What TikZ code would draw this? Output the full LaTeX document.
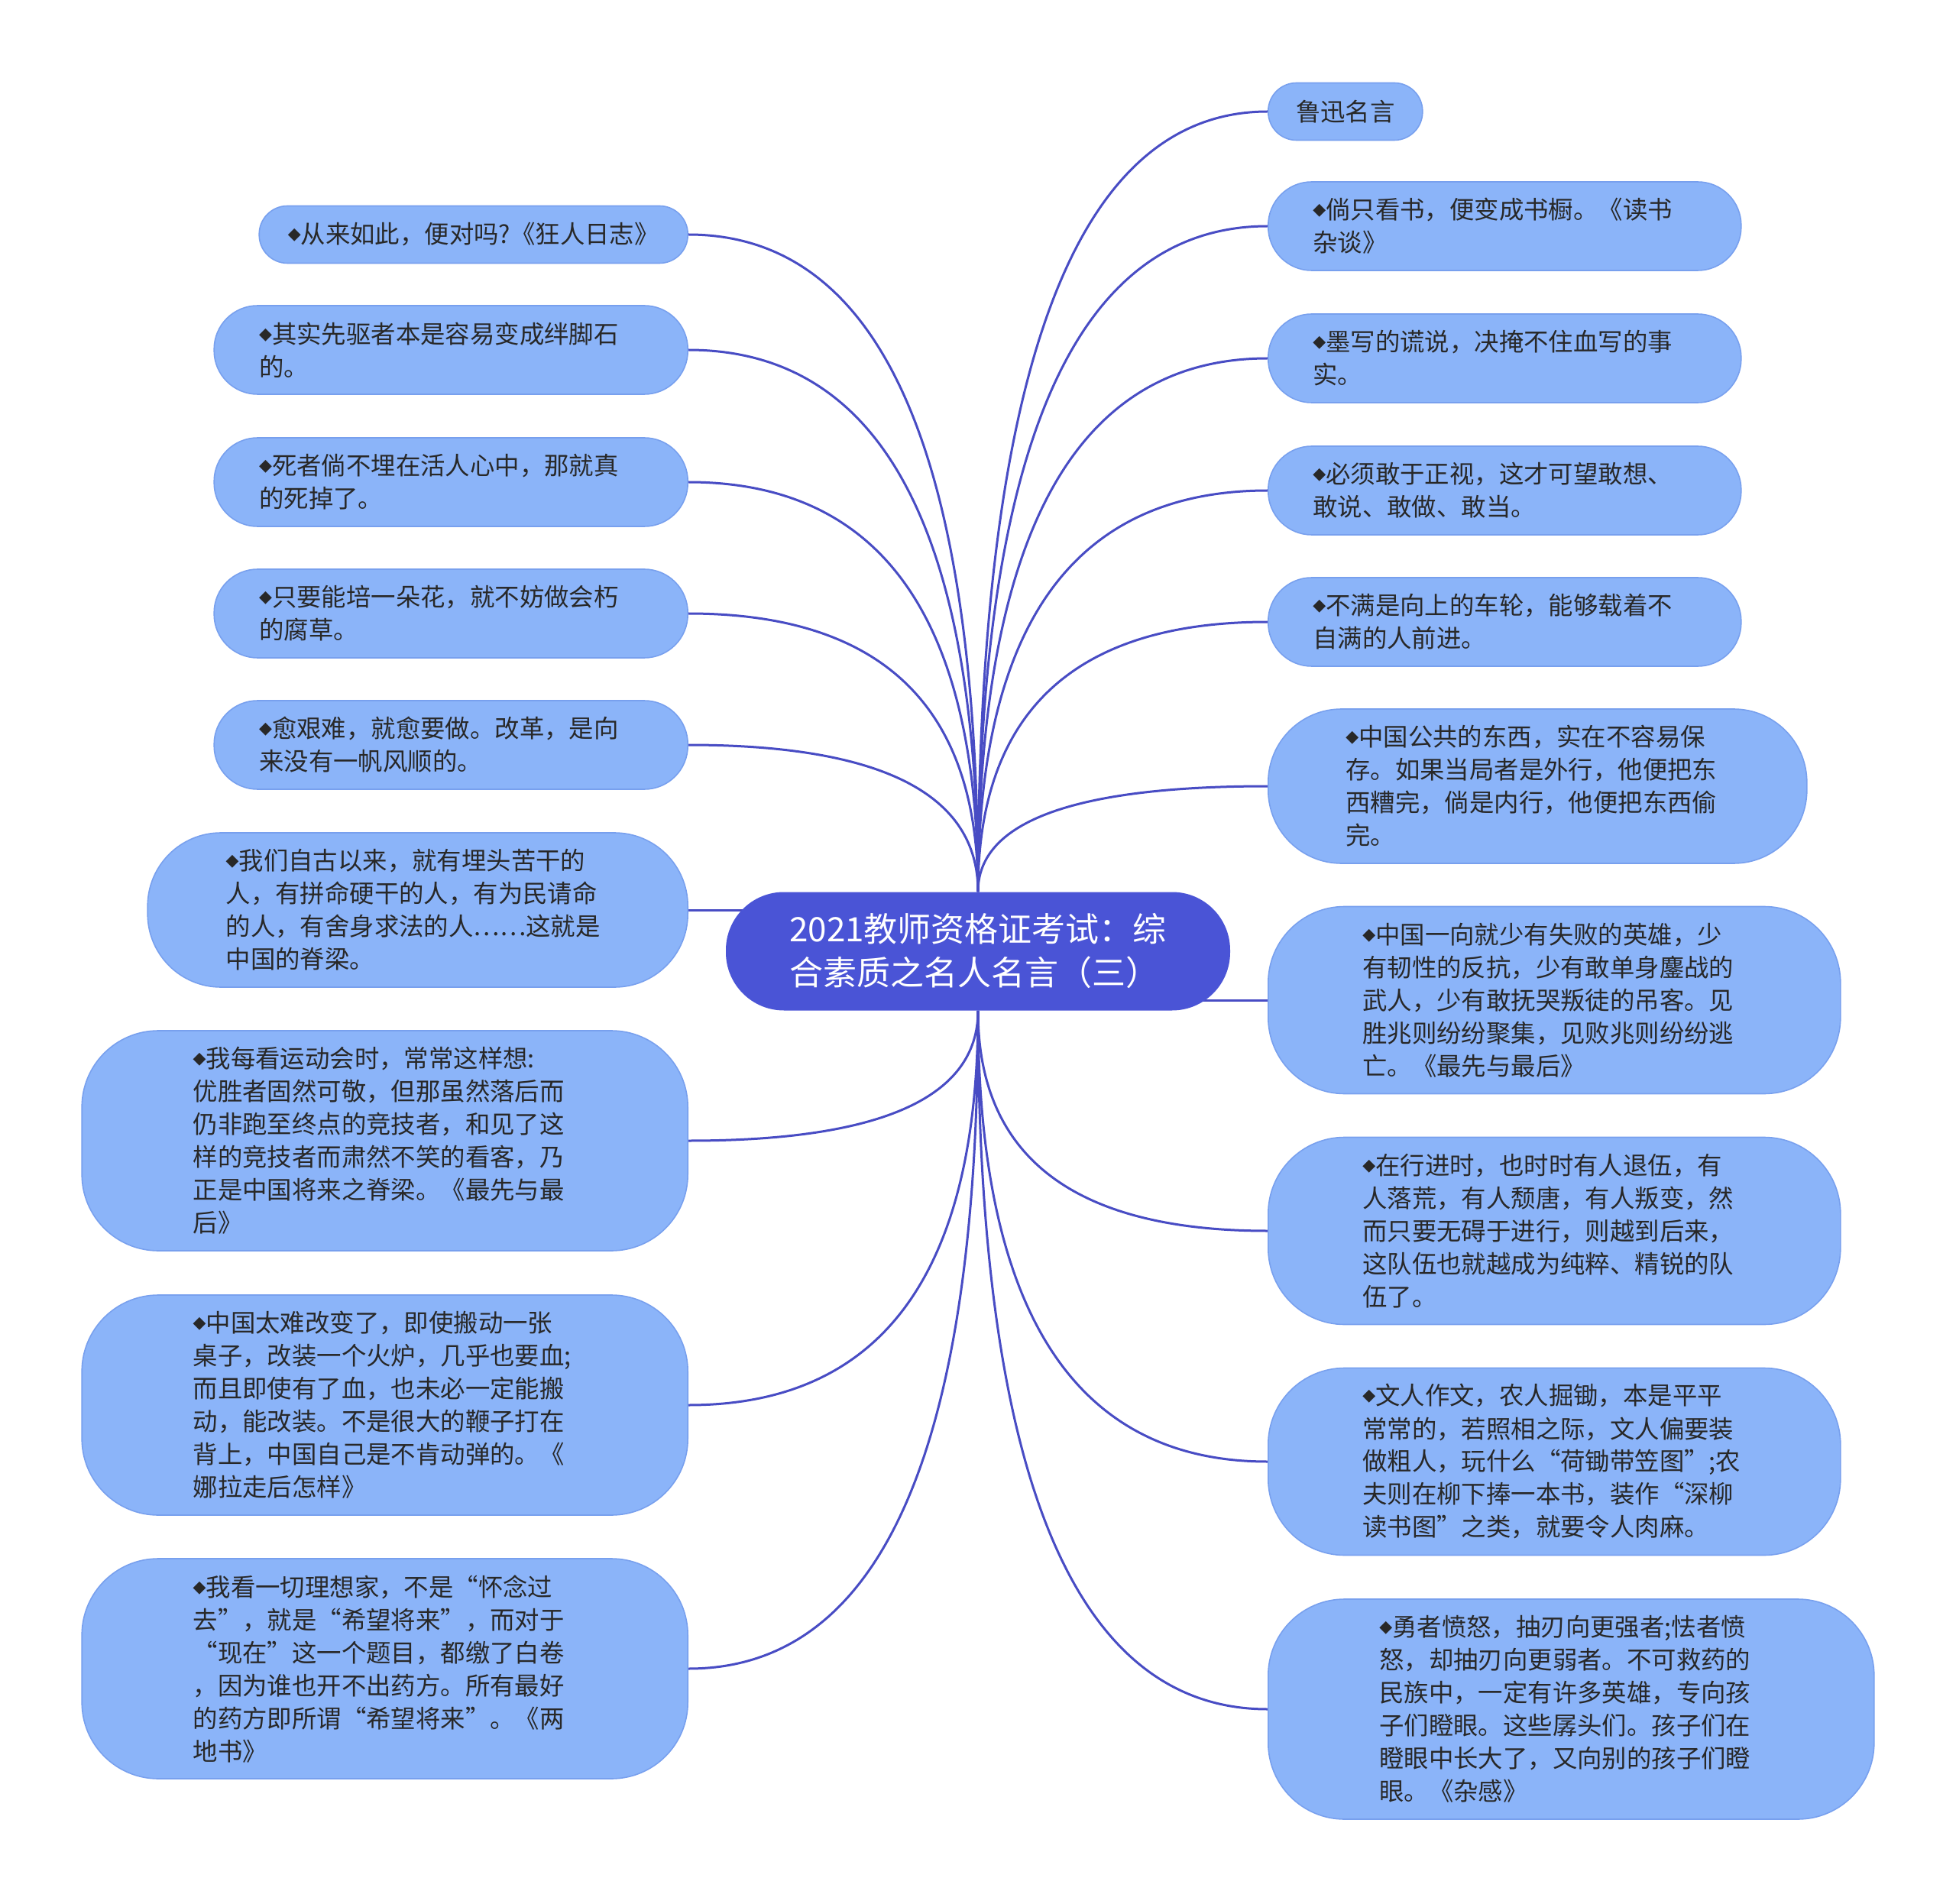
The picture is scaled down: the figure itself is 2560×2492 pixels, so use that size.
\documentclass[tikz,border=0pt]{standalone}
\usepackage{fontspec}
\usetikzlibrary{backgrounds,calc}
\newfontfamily\cjk{Noto Sans CJK SC}
\newfontfamily\djv{DejaVu Sans}
\definecolor{leaffill}{RGB}{139,180,249}
\definecolor{leafline}{RGB}{120,160,238}
\definecolor{centerfill}{RGB}{74,84,214}
\definecolor{linecol}{RGB}{72,76,196}
\definecolor{txt}{RGB}{40,40,40}
\newcommand\dm{\raisebox{2.5pt}{\djv\fontsize{11}{11}\selectfont ◆}}
\tikzset{
  leaf/.style={draw=leafline, fill=leaffill, line width=0.8pt, inner sep=0pt,
    text=txt, font=\cjk\fontsize{16.2}{21.5}\selectfont, align=left},
  tw/.style={text width=251pt},
  hone/.style={minimum height=37.5pt, rounded corners=18.5pt},
  htwo/.style={minimum height=58pt, rounded corners=28.5pt},
  hfour/.style={minimum height=101pt, rounded corners=48pt},
  hfive/.style={minimum height=122.5pt, rounded corners=50pt},
  hsix/.style={minimum height=144pt, rounded corners=50pt},
  central/.style={fill=centerfill, inner sep=0pt, text=white, align=left,
    font=\cjk\fontsize{22}{28.5}\selectfont, minimum width=330pt,
    minimum height=77.5pt, rounded corners=38pt},
  conn/.style={draw=linecol, line width=1.5pt},
}
\begin{document}
\begin{tikzpicture}[x=0.5pt,y=-0.5pt]
\useasboundingbox (0,0) rectangle (2560,2492);

\node[central] (c) at (1280,1245) {2021教师资格证考试：综\\合素质之名人名言（三）};

% left side
\node[leaf,hone,anchor=east,minimum width=280.5pt] (L1) at (901,307) {\dm 从来如此，便对吗?《狂人日志》};
\node[leaf,htwo,tw,anchor=east,minimum width=310pt] (L2) at (901,458) {\dm 其实先驱者本是容易变成绊脚石\\的。};
\node[leaf,htwo,tw,anchor=east,minimum width=310pt] (L3) at (901,631) {\dm 死者倘不埋在活人心中，那就真\\的死掉了。};
\node[leaf,htwo,tw,anchor=east,minimum width=310pt] (L4) at (901,803) {\dm 只要能培一朵花，就不妨做会朽\\的腐草。};
\node[leaf,htwo,tw,anchor=east,minimum width=310pt] (L5) at (901,975) {\dm 愈艰难，就愈要做。改革，是向\\来没有一帆风顺的。};
\node[leaf,hfour,tw,anchor=east,minimum width=353.5pt] (L6) at (901,1191) {\dm 我们自古以来，就有埋头苦干的\\人，有拼命硬干的人，有为民请命\\的人，有舍身求法的人……这就是\\中国的脊梁。};
\node[leaf,hsix,tw,anchor=east,minimum width=396.5pt] (L7) at (901,1493) {\dm 我每看运动会时，常常这样想:\\优胜者固然可敬，但那虽然落后而\\仍非跑至终点的竞技者，和见了这\\样的竞技者而肃然不笑的看客，乃\\正是中国将来之脊梁。《最先与最\\后》};
\node[leaf,hsix,tw,anchor=east,minimum width=396.5pt] (L8) at (901,1839) {\dm 中国太难改变了，即使搬动一张\\桌子，改装一个火炉，几乎也要血;\\而且即使有了血，也未必一定能搬\\动，能改装。不是很大的鞭子打在\\背上，中国自己是不肯动弹的。《\\娜拉走后怎样》};
\node[leaf,hsix,tw,anchor=east,minimum width=396.5pt] (L9) at (901,2184) {\dm 我看一切理想家，不是“怀念过\\去”，就是“希望将来”，而对于\\“现在”这一个题目，都缴了白卷\\，因为谁也开不出药方。所有最好\\的药方即所谓“希望将来”。《两\\地书》};

% right side
\node[leaf,hone,anchor=west,minimum width=101pt] (R1) at (1659,146) {鲁迅名言};
\node[leaf,htwo,tw,anchor=west,minimum width=309.5pt] (R2) at (1659,296) {\dm 倘只看书，便变成书橱。《读书\\杂谈》};
\node[leaf,htwo,tw,anchor=west,minimum width=309.5pt] (R3) at (1659,469) {\dm 墨写的谎说，决掩不住血写的事\\实。};
\node[leaf,htwo,tw,anchor=west,minimum width=309.5pt] (R4) at (1659,642) {\dm 必须敢于正视，这才可望敢想、\\敢说、敢做、敢当。};
\node[leaf,htwo,tw,anchor=west,minimum width=309.5pt] (R5) at (1659,814) {\dm 不满是向上的车轮，能够载着不\\自满的人前进。};
\node[leaf,hfour,tw,anchor=west,minimum width=352.5pt] (R6) at (1659,1029) {\dm 中国公共的东西，实在不容易保\\存。如果当局者是外行，他便把东\\西糟完，倘是内行，他便把东西偷\\完。};
\node[leaf,hfive,tw,anchor=west,minimum width=374.5pt] (R7) at (1659,1309) {\dm 中国一向就少有失败的英雄，少\\有韧性的反抗，少有敢单身鏖战的\\武人，少有敢抚哭叛徒的吊客。见\\胜兆则纷纷聚集，见败兆则纷纷逃\\亡。《最先与最后》};
\node[leaf,hfive,tw,anchor=west,minimum width=374.5pt] (R8) at (1659,1611) {\dm 在行进时，也时时有人退伍，有\\人落荒，有人颓唐，有人叛变，然\\而只要无碍于进行，则越到后来，\\这队伍也就越成为纯粹、精锐的队\\伍了。};
\node[leaf,hfive,tw,anchor=west,minimum width=374.5pt] (R9) at (1659,1913) {\dm 文人作文，农人掘锄，本是平平\\常常的，若照相之际，文人偏要装\\做粗人，玩什么“荷锄带笠图”;农\\夫则在柳下捧一本书，装作“深柳\\读书图”之类，就要令人肉麻。};
\node[leaf,hsix,tw,anchor=west,minimum width=396.5pt] (R10) at (1659,2237) {\dm 勇者愤怒，抽刃向更强者;怯者愤\\怒，却抽刃向更弱者。不可救药的\\民族中，一定有许多英雄，专向孩\\子们瞪眼。这些孱头们。孩子们在\\瞪眼中长大了，又向别的孩子们瞪\\眼。《杂感》};

\begin{pgfonlayer}{background}
\fill[white] (0,0) rectangle (2560,2492);
\foreach \n in {L1,L2,L3,L4,L5}
  \draw[conn] (c.north) .. controls ($(c.north)!2/3!(c.north |- \n.east)$) and ($(\n.east)!2/3!(c.north |- \n.east)$) .. (\n.east);
\foreach \n in {L7,L8,L9}
  \draw[conn] (c.south) .. controls ($(c.south)!2/3!(c.south |- \n.east)$) and ($(\n.east)!2/3!(c.south |- \n.east)$) .. (\n.east);
\foreach \n in {R1,R2,R3,R4,R5,R6}
  \draw[conn] (c.north) .. controls ($(c.north)!2/3!(c.north |- \n.west)$) and ($(\n.west)!2/3!(c.north |- \n.west)$) .. (\n.west);
\foreach \n in {R8,R9,R10}
  \draw[conn] (c.south) .. controls ($(c.south)!2/3!(c.south |- \n.west)$) and ($(\n.west)!2/3!(c.south |- \n.west)$) .. (\n.west);
\draw[conn] (c.center |- L6.east) -- (L6.east);
\draw[conn] (c.center |- R7.west) -- (R7.west);
\end{pgfonlayer}
\end{tikzpicture}
\end{document}
